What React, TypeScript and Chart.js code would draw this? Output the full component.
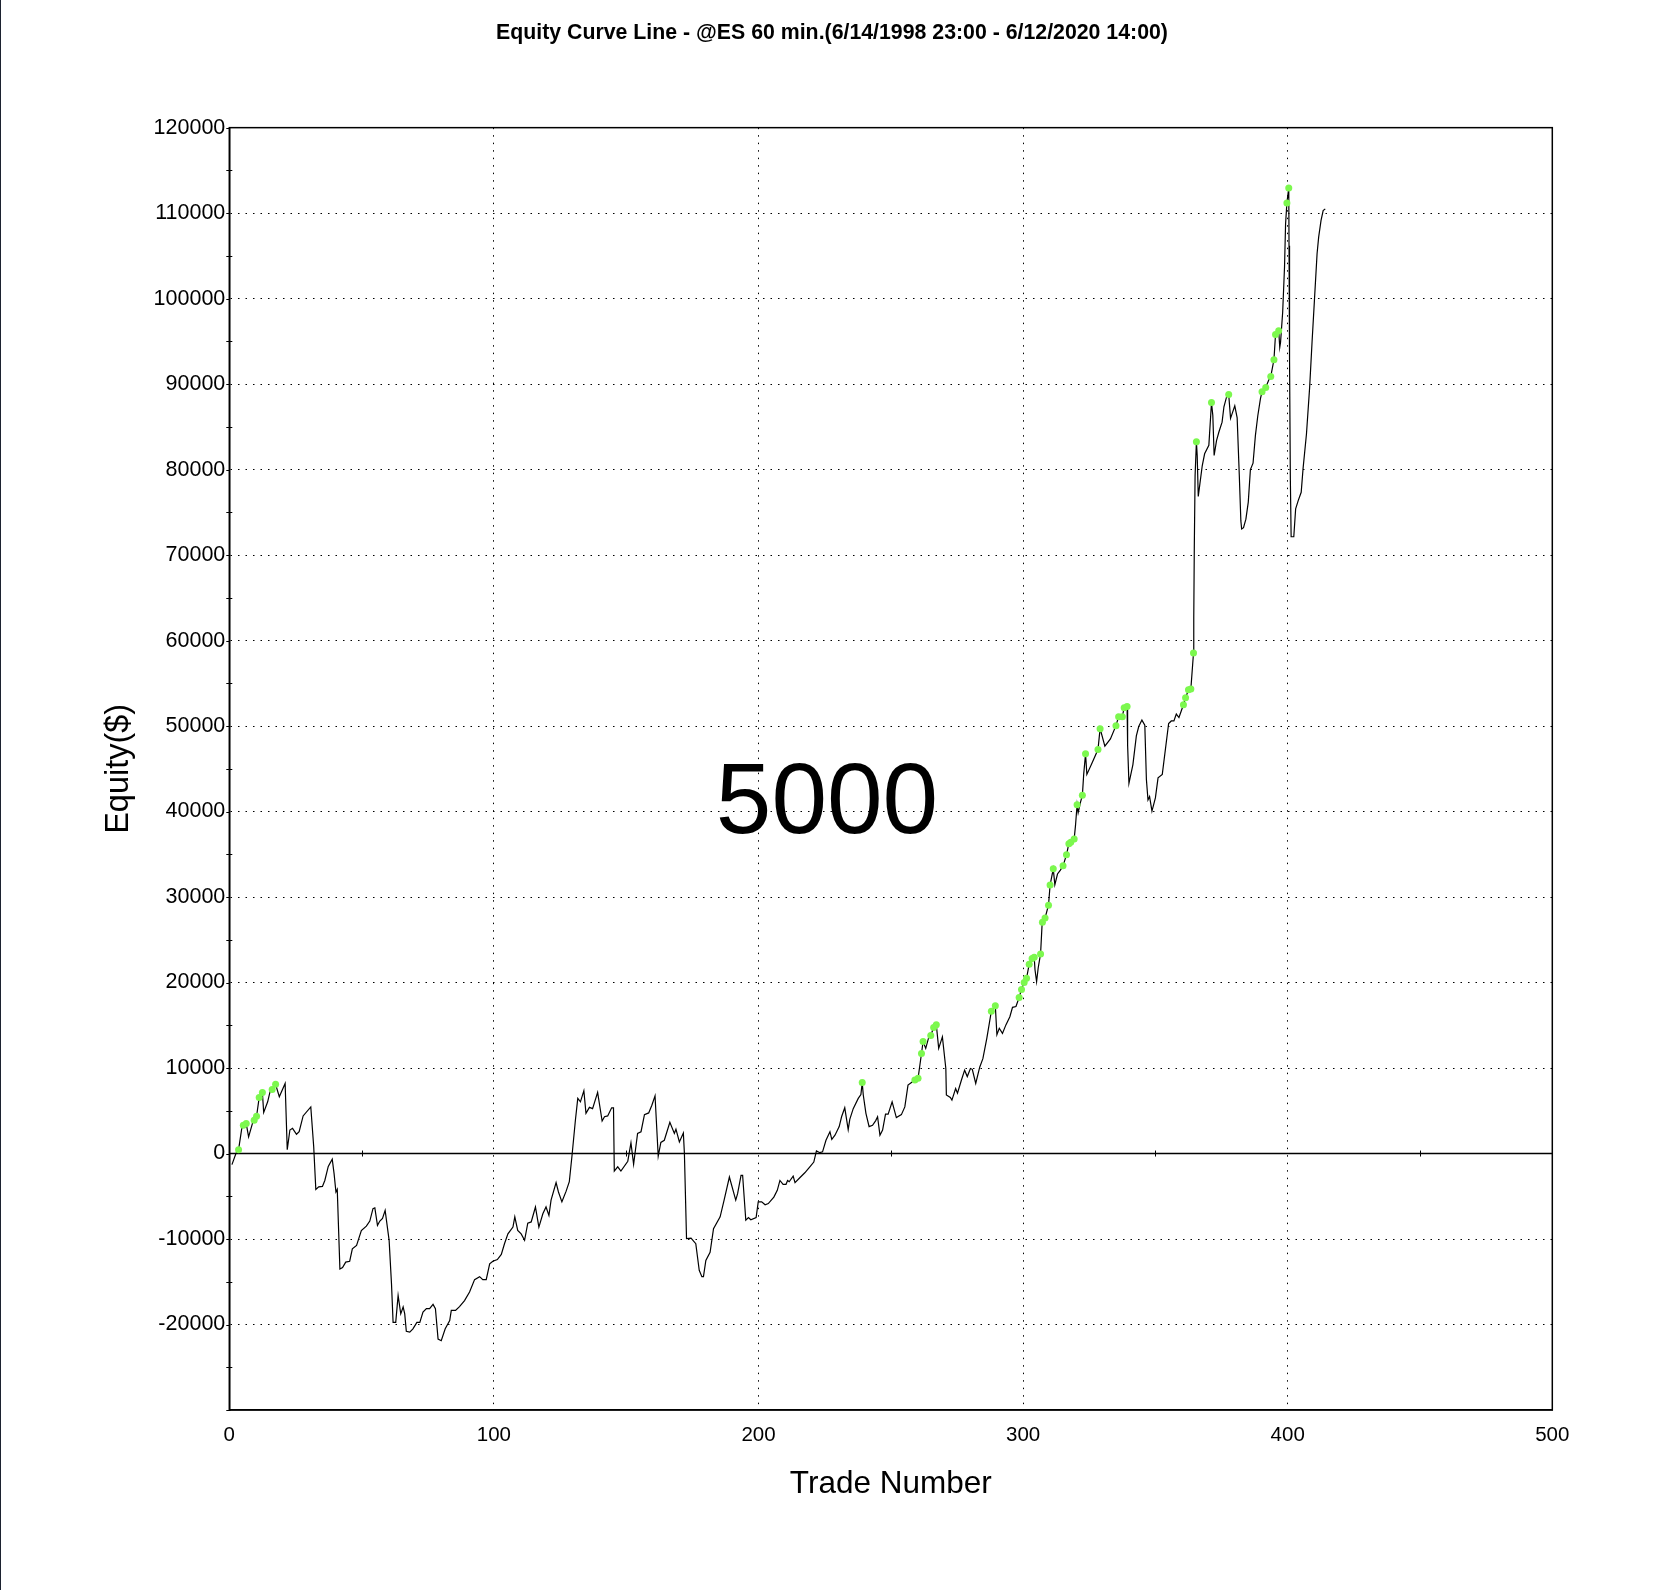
import { useEffect, useRef } from 'react';
import { Chart, registerables } from 'chart.js';

Chart.register(...registerables);

const TITLE = 'Equity Curve Line - @ES 60 min.(6/14/1998 23:00 - 6/12/2020 14:00)';
const X_TITLE = 'Trade Number';
const Y_TITLE = 'Equity($)';
const WATERMARK = '5000';

const X_MIN = 0;
const X_MAX = 500;
const X_STEP = 100;
const Y_MIN = -30000;
const Y_MAX = 120000;
const Y_STEP = 10000;
const Y_MINOR_STEP = 5000;
const zeroLineMinorTicks = [50, 150, 250, 350, 450];

// Equity curve vertices (trade number, equity $)
const equityTrades = [
  1.0, 2.5, 3.5, 4.7, 5.3, 6.4, 7.3, 9.0, 9.4, 10.3, 11.3, 12.5, 13.0, 14.5, 15.6, 16.2, 17.5, 18.9, 21.1, 21.9,
  22.9, 23.9, 25.4, 26.4, 27.9, 30.8, 31.9, 32.7, 33.8, 35.2, 36.1, 37.4, 38.9, 39.6, 40.3, 40.8, 41.8, 42.8, 44.0, 45.5,
  46.5, 48.1, 49.9, 51.8, 53.1, 54.3, 55.0, 56.0, 56.9, 57.9, 58.9, 60.4, 61.3, 61.9, 62.9, 63.8, 64.8, 65.7, 66.3, 66.9,
  68.2, 69.4, 70.9, 72.0, 73.2, 74.5, 75.7, 77.0, 77.9, 78.9, 80.1, 81.6, 83.3, 83.9, 85.5, 87.0, 88.9, 90.8, 92.7, 94.6,
  95.8, 97.1, 98.4, 99.6, 101.3, 102.8, 104.0, 105.3, 107.2, 107.9, 109.0, 110.3, 111.6, 112.8, 114.1, 115.7, 117.0, 118.5, 119.7, 120.8,
  121.6, 123.5, 124.4, 125.7, 127.3, 128.5, 129.6, 130.8, 131.7, 132.7, 134.0, 134.8, 136.1, 137.3, 139.2, 140.9, 141.8, 143.0, 144.5, 145.2,
  145.5, 146.8, 148.0, 150.6, 151.8, 152.8, 154.3, 155.6, 156.9, 158.5, 159.7, 160.9, 162.1, 163.1, 164.4, 166.5, 168.2, 168.8, 170.1, 171.6,
  172.0, 172.8, 174.5, 176.3, 177.6, 178.6, 179.2, 180.1, 181.7, 183.0, 185.5, 187.0, 189.0, 191.4, 192.1, 193.4, 194.0, 195.2, 196.2, 197.1,
  199.1, 199.9, 201.2, 202.5, 203.7, 205.8, 207.1, 208.1, 209.3, 210.4, 211.0, 211.6, 213.1, 213.8, 215.7, 217.5, 219.4, 220.9, 221.9, 223.2,
  224.2, 225.5, 227.0, 227.7, 228.9, 230.5, 231.4, 232.6, 233.9, 234.5, 235.8, 237.7, 238.7, 239.2, 239.6, 240.6, 241.8, 243.1, 244.3, 245.0,
  245.9, 246.9, 248.0, 249.0, 250.5, 252.1, 254.0, 255.3, 256.5, 258.2, 259.1, 260.3, 261.6, 262.2, 263.2, 264.3, 265.1, 266.2, 267.2, 268.1,
  269.5, 270.8, 271.0, 272.5, 273.1, 274.5, 275.2, 276.7, 277.9, 278.9, 280.1, 280.8, 282.1, 283.6, 284.8, 286.3, 288.0, 289.5, 290.1, 291.0,
  292.2, 293.5, 295.0, 296.0, 297.3, 298.5, 299.4, 300.4, 301.3, 302.3, 303.4, 304.2, 304.5, 305.1, 305.7, 306.6, 307.2, 307.3, 308.3, 309.6,
  310.2, 311.4, 312.0, 313.0, 314.1, 315.1, 316.4, 317.3, 318.0, 319.3, 319.8, 320.4, 320.8, 321.7, 322.4, 322.9, 323.6, 324.1, 325.8, 328.3,
  329.1, 330.9, 333.0, 335.1, 336.1, 337.5, 338.2, 339.3, 339.5, 340.0, 341.5, 342.8, 343.7, 344.9, 346.0, 346.6, 347.2, 347.8, 348.7, 350.0,
  351.0, 352.6, 355.0, 356.0, 357.0, 357.9, 358.9, 360.6, 361.4, 362.5, 363.4, 364.4, 364.5, 364.7, 365.0, 365.5, 365.8, 366.2, 366.8, 367.7,
  368.6, 370.2, 371.2, 371.7, 372.2, 373.1, 374.0, 375.2, 375.9, 376.9, 377.7, 378.4, 380.0, 380.9, 381.7, 382.3, 382.6, 383.3, 384.2, 385.1,
  385.9, 386.9, 387.8, 388.7, 389.7, 390.3, 391.7, 392.8, 393.6, 394.8, 395.4, 396.6, 397.0, 397.3, 398.1, 398.8, 399.2, 399.7, 400.4, 400.5,
  400.7, 401.0, 401.3, 402.3, 403.0, 404.0, 405.1, 405.8, 407.1, 408.3, 409.2, 410.1, 411.1, 411.7, 412.6, 413.4, 414.2,
];
const equityValues = [
  -1300, 0, 450, 2900, 3300, 3500, 1950, 3800, 3900, 4350, 6550, 7150, 4800, 6050, 7500, 7500, 8100, 6650, 8200, 450,
  2750, 2950, 2250, 2550, 4400, 5450, 800, -4200, -3900, -3850, -3150, -1500, -650, -2350, -4500, -4200, -13500, -13350, -12700, -12600,
  -11150, -10750, -9000, -8500, -7900, -6450, -6350, -8400, -7900, -7600, -6650, -10150, -15250, -19750, -19750, -16600, -18750, -17950, -18750, -20800,
  -20900, -20500, -19750, -19750, -18550, -18150, -18150, -17650, -18150, -21700, -21900, -20500, -19550, -18350, -18350, -17900, -17200, -16200, -14750, -14400,
  -14750, -14750, -12900, -12600, -12400, -11800, -10550, -9400, -8600, -7400, -9000, -9400, -10150, -8150, -8000, -6250, -8600, -7050, -6250, -7250,
  -5450, -3400, -4500, -5650, -4400, -3300, 0, 3900, 6450, 6050, 7350, 4700, 5400, 5250, 7150, 3800, 4300, 4400, 5350, 5350,
  -2050, -1550, -2050, -900, 1250, -1250, 2350, 2550, 4550, 4750, 5650, 6750, -300, 1300, 1550, 3650, 2350, 2850, 1350, 2400,
  0, -9950, -9900, -10550, -13650, -14400, -14400, -12500, -11550, -8800, -7400, -5450, -2750, -5450, -4700, -2550, -2550, -7800, -7500, -7750,
  -7500, -5650, -5650, -6000, -5850, -5100, -4300, -3150, -3600, -3600, -3150, -3300, -2650, -3400, -2800, -2250, -1550, -1000, 300, 100,
  200, 1550, 2550, 1650, 2150, 3150, 4300, 5350, 2800, 4000, 5250, 6450, 6900, 8300, 6850, 4700, 3150, 3300, 3850, 4300,
  2150, 2750, 4600, 4600, 6050, 4200, 4550, 5450, 8000, 8400, 8600, 8800, 11700, 13100, 12300, 13550, 13800, 14750, 15050, 12300,
  13650, 9950, 6850, 6550, 6250, 7600, 7050, 8600, 9750, 9000, 9950, 9850, 8200, 10100, 11100, 13500, 16650, 17300, 13900, 14650,
  14050, 15050, 16000, 17100, 17200, 18250, 19200, 20000, 20500, 22150, 22800, 22950, 21500, 20100, 21700, 23350, 26950, 27050, 27550, 29050,
  31400, 33300, 31450, 32700, 33150, 33650, 34950, 36250, 36400, 36800, 38350, 40800, 39850, 41100, 41900, 44350, 46750, 44350, 45500, 47250,
  49700, 47650, 48500, 50050, 51100, 51100, 52150, 52300, 47750, 43300, 45500, 48850, 49950, 50700, 50100, 43750, 41350, 41750, 40050, 41600,
  43950, 44350, 50300, 50600, 50600, 51400, 51000, 52500, 53300, 54250, 54350, 58550, 62700, 70850, 79300, 83250, 81650, 76850, 78300, 80450,
  81850, 82850, 87850, 86350, 81650, 83400, 84400, 85550, 87350, 88500, 88800, 86000, 87450, 86050, 79400, 74000, 73050, 73200, 74200, 76200,
  80000, 80750, 84000, 86300, 88300, 89100, 89600, 90450, 90900, 92850, 95800, 96250, 94300, 94900, 98400, 103700, 108750, 111200, 112950, 106200,
  92750, 78900, 72150, 72150, 75400, 76400, 77350, 80100, 84200, 89650, 94900, 99800, 105250, 107200, 109150, 110300, 110500,
];

// New equity high markers (green dots)
const newHighTrades = [
  3.5, 5.3, 6.4, 9.4, 10.3, 11.3, 12.5, 16.2, 17.5,
  239.2, 259.1, 260.3, 261.6, 262.2, 265.1, 266.2, 267.2, 288.0, 289.5,
  298.5, 299.4, 300.4, 301.3, 302.3, 303.4, 304.2, 306.6, 307.3, 308.3, 309.6, 310.2, 311.4, 315.1, 316.4, 317.3, 318.0, 319.3,
  320.4, 322.4, 323.6, 328.3, 329.1, 335.1, 336.1, 337.5, 338.2, 339.3,
  360.6, 361.4, 362.5, 363.4, 364.4, 365.5, 371.2, 377.7, 390.3, 391.7, 393.6, 394.8, 395.4, 396.6, 399.7, 400.4,
];
const newHighValues = [
  450, 3300, 3500, 3900, 4350, 6550, 7150, 7500, 8100,
  8300, 8600, 8800, 11700, 13100, 13800, 14750, 15050, 16650, 17300,
  18250, 19200, 20000, 20500, 22150, 22800, 22950, 23350, 27050, 27550, 29050, 31400, 33300, 33650, 34950, 36250, 36400, 36800,
  40800, 41900, 46750, 47250, 49700, 50050, 51100, 51100, 52150, 52300,
  52500, 53300, 54250, 54350, 58550, 83250, 87850, 88800, 89100, 89600, 90900, 92850, 95800, 96250, 111200, 112950,
];

const zeroLineTrades = [X_MIN, X_MAX];
const zeroLineValues = [0, 0];

const FONT = '"Liberation Sans", Arial, Helvetica, sans-serif';

const decorPlugin = {
  id: 'decor',
  beforeDraw(chart: any) {
    const { ctx, width, height } = chart;
    ctx.save();
    ctx.fillStyle = '#ffffff';
    ctx.fillRect(0, 0, width, height);
    ctx.restore();
  },
  beforeDatasetsDraw(chart: any) {
    const { ctx } = chart;
    ctx.save();
    ctx.fillStyle = '#000000';
    ctx.font = `100px ${FONT}`;
    ctx.textAlign = 'center';
    ctx.textBaseline = 'middle';
    ctx.fillText(WATERMARK, 827, 805);
    ctx.restore();
  },
  afterDatasetsDraw(chart: any) {
    const { ctx, chartArea: a, scales } = chart;
    const x = scales.x;
    const y = scales.y;
    ctx.save();
    ctx.strokeStyle = '#000000';
    ctx.lineWidth = 1;
    for (let v = Y_MIN; v <= Y_MAX; v += Y_MINOR_STEP) {
      const py = Math.round(y.getPixelForValue(v)) + 0.5;
      const major = v % Y_STEP === 0;
      ctx.beginPath();
      ctx.moveTo(a.left - 3, py);
      ctx.lineTo(a.left + (major ? 0 : 3), py);
      ctx.stroke();
    }
    const y0 = y.getPixelForValue(0);
    zeroLineMinorTicks.forEach((t) => {
      const px = Math.round(x.getPixelForValue(t)) + 0.5;
      ctx.beginPath();
      ctx.moveTo(px, y0 - 3);
      ctx.lineTo(px, y0 + 3);
      ctx.stroke();
    });
    ctx.lineWidth = 1.5;
    ctx.strokeRect(a.left, a.top, a.right - a.left, a.bottom - a.top);
    ctx.restore();
  },
};

export default function App() {
  const canvasRef = useRef<HTMLCanvasElement | null>(null);

  useEffect(() => {
    if (!canvasRef.current) return;
    const equityData = equityTrades.map((t, i) => ({ x: t, y: equityValues[i] }));
    const highData = newHighTrades.map((t, i) => ({ x: t, y: newHighValues[i] }));
    const zeroData = zeroLineTrades.map((t, i) => ({ x: t, y: zeroLineValues[i] }));

    const chart = new Chart(canvasRef.current, {
      type: 'line',
      data: {
        datasets: [
          {
            label: 'New High',
            data: highData,
            showLine: false,
            pointRadius: 3.5,
            pointBackgroundColor: '#7CF84E',
            pointBorderColor: '#7CF84E',
            pointBorderWidth: 0,
            order: 0,
          },
          {
            label: 'Equity',
            data: equityData,
            borderColor: '#000000',
            borderWidth: 1.2,
            pointRadius: 0,
            tension: 0,
            fill: false,
            order: 1,
          },
          {
            label: 'Zero',
            data: zeroData,
            borderColor: '#000000',
            borderWidth: 1.5,
            pointRadius: 0,
            fill: false,
            order: 2,
          },
        ],
      },
      options: {
        animation: false,
        responsive: true,
        maintainAspectRatio: false,
        events: [],
        layout: { padding: { left: 8, right: 0, top: 0, bottom: 0 } },
        plugins: {
          legend: { display: false },
          tooltip: { enabled: false },
          title: {
            display: true,
            text: TITLE,
            color: '#000000',
            font: { family: FONT, size: 21.3, weight: 'bold' },
            padding: { top: 20.2, bottom: 81.9 },
          },
        },
        scales: {
          x: {
            type: 'linear',
            min: X_MIN,
            max: X_MAX,
            afterFit: (s: any) => { s.height = 180; },
            ticks: {
              stepSize: X_STEP,
              color: '#000000',
              font: { family: FONT, size: 20.5 },
              padding: 13,
              maxRotation: 0,
            },
            grid: {
              drawTicks: false,
              lineWidth: 1,
              color: (c: any) => (c.tick && (c.tick.value === X_MIN || c.tick.value === X_MAX) ? 'rgba(0,0,0,0)' : '#000000'),
            },
            border: { display: true, color: '#000000', width: 1.5, dash: [1.5, 6] },
            title: {
              display: true,
              text: X_TITLE,
              color: '#000000',
              font: { family: FONT, size: 31.5 },
              padding: { top: 0, bottom: 86.5 },
            },
          },
          y: {
            type: 'linear',
            min: Y_MIN,
            max: Y_MAX,
            afterFit: (s: any) => { s.width = 221.3; },
            ticks: {
              stepSize: Y_STEP,
              color: '#000000',
              font: { family: FONT, size: 21.5 },
              padding: 4,
              callback: (v: any) => (v === Y_MIN ? '' : String(v)),
            },
            grid: {
              drawTicks: false,
              lineWidth: 1,
              color: (c: any) =>
                c.tick && (c.tick.value === 0 || c.tick.value === Y_MIN || c.tick.value === Y_MAX) ? 'rgba(0,0,0,0)' : '#000000',
            },
            border: { display: true, color: '#000000', width: 1.5, dash: [1.5, 6] },
            title: {
              display: true,
              text: Y_TITLE,
              color: '#000000',
              font: { family: FONT, size: 32.5 },
              padding: { top: 91.5, bottom: 0 },
            },
          },
          yRight: {
            type: 'linear',
            position: 'right',
            display: true,
            min: Y_MIN,
            max: Y_MAX,
            afterFit: (s: any) => { s.width = 103.7; },
            ticks: { display: false },
            grid: { display: false, drawTicks: false },
            border: { display: false },
          },
        },
      },
      plugins: [decorPlugin],
    } as any);

    return () => chart.destroy();
  }, []);

  return (
    <div style={{ position: 'absolute', left: 0, top: 0, width: 1656, height: 1590, background: '#ffffff' }}>
      <canvas ref={canvasRef} style={{ display: 'block' }} />
      <div style={{ position: 'absolute', left: 0, top: 0, width: 1, height: 1590, background: '#1c2230' }} />
    </div>
  );
}
